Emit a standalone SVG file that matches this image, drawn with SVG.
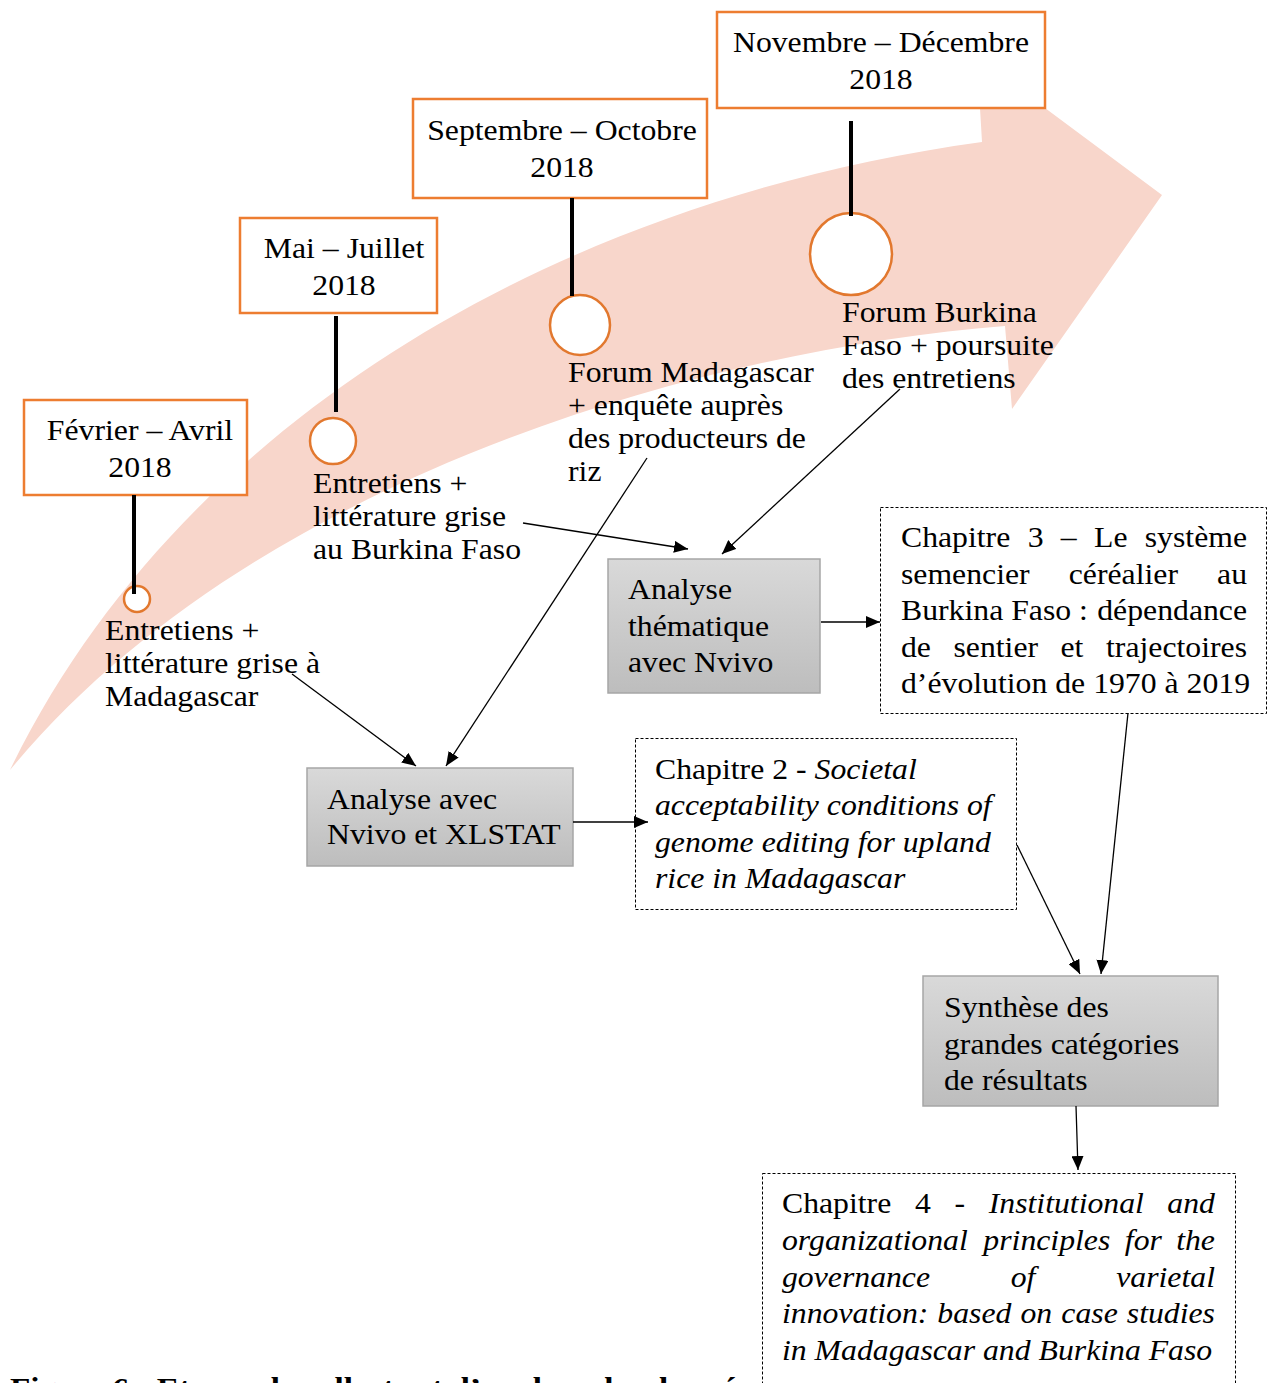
<svg xmlns="http://www.w3.org/2000/svg" width="1271" height="1383" viewBox="0 0 1271 1383">
<style>
.t{font-family:"Liberation Serif","Times New Roman",serif;font-size:29px;fill:#000}
.i{font-style:italic}
.b{font-weight:bold}
.ob{fill:#fff;stroke:#ED7D31;stroke-width:2.5}
.circ{fill:#fff;stroke:#E2782E;stroke-width:2.5}
.stem{stroke:#000;stroke-width:4}
.gb{fill:url(#gg);stroke:#A6A6A6;stroke-width:1.5}
.db{fill:#fff;stroke:#000;stroke-width:1;stroke-dasharray:3 2}
.c{stroke:#000;stroke-width:1.3;fill:none;marker-end:url(#ah)}
</style>
<defs>
<linearGradient id="gg" x1="0" y1="0" x2="0" y2="1">
<stop offset="0" stop-color="#D9D9D9"/>
<stop offset="1" stop-color="#BDBDBD"/>
</linearGradient>
<marker id="ah" markerUnits="userSpaceOnUse" markerWidth="14" markerHeight="12" refX="14" refY="6" orient="auto">
<path d="M0,0 L14,6 L0,12 z" fill="#000"/>
</marker>
</defs>
<rect width="1271" height="1383" fill="#fff"/>
<g id="big-arrow">
<path d="M10,770 C180,420 560,200 982,142 L980,108 L1045,108 L1162,195 L1012,409 L1005,326 C700,350 250,480 10,770 Z" fill="#F8D6CB"/>
</g>
<g id="step1">
<rect class="ob" x="24" y="400" width="223" height="95"/>
<text class="t" text-anchor="middle" transform="translate(140,440) scale(1.095 1)"><tspan x="0" y="0">Février – Avril</tspan><tspan x="0" y="37">2018</tspan></text>
<circle class="circ" cx="137" cy="599" r="13"/>
<line class="stem" x1="134" y1="495" x2="134" y2="594"/>
<text class="t" transform="translate(105,640) scale(1.095 1)"><tspan x="0" y="0">Entretiens +</tspan><tspan x="0" y="33">littérature grise à</tspan><tspan x="0" y="66">Madagascar</tspan></text>
</g>
<g id="step2">
<rect class="ob" x="240" y="218" width="197" height="95"/>
<text class="t" text-anchor="middle" transform="translate(344,258) scale(1.095 1)"><tspan x="0" y="0">Mai – Juillet</tspan><tspan x="0" y="37">2018</tspan></text>
<circle class="circ" cx="333" cy="441" r="23"/>
<line class="stem" x1="336" y1="316" x2="336" y2="412"/>
<text class="t" transform="translate(313,493) scale(1.095 1)"><tspan x="0" y="0">Entretiens +</tspan><tspan x="0" y="33">littérature grise</tspan><tspan x="0" y="66">au Burkina Faso</tspan></text>
</g>
<g id="step3">
<rect class="ob" x="413" y="99" width="294" height="99"/>
<text class="t" text-anchor="middle" transform="translate(562,140) scale(1.095 1)"><tspan x="0" y="0">Septembre – Octobre</tspan><tspan x="0" y="37">2018</tspan></text>
<circle class="circ" cx="580" cy="325" r="30"/>
<line class="stem" x1="572" y1="198" x2="572" y2="296"/>
<text class="t" transform="translate(568,382) scale(1.095 1)"><tspan x="0" y="0">Forum Madagascar</tspan><tspan x="0" y="33">+ enquête auprès</tspan><tspan x="0" y="66">des producteurs de</tspan><tspan x="0" y="99">riz</tspan></text>
</g>
<g id="step4">
<rect class="ob" x="717" y="12" width="328" height="96"/>
<text class="t" text-anchor="middle" transform="translate(881,52) scale(1.095 1)"><tspan x="0" y="0">Novembre – Décembre</tspan><tspan x="0" y="37">2018</tspan></text>
<circle class="circ" cx="851" cy="254" r="41"/>
<line class="stem" x1="851" y1="121" x2="851" y2="216"/>
<text class="t" transform="translate(842,322) scale(1.095 1)"><tspan x="0" y="0">Forum Burkina</tspan><tspan x="0" y="33">Faso + poursuite</tspan><tspan x="0" y="66">des entretiens</tspan></text>
</g>
<g id="analyse-thematique">
<rect class="gb" x="608" y="559" width="212" height="134"/>
<text class="t" transform="translate(628,599) scale(1.095 1)"><tspan x="0" y="0">Analyse</tspan><tspan x="0" y="37">thématique</tspan><tspan x="0" y="73">avec Nvivo</tspan></text>
</g>
<g id="analyse-xlstat">
<rect class="gb" x="307" y="768" width="266" height="98"/>
<text class="t" transform="translate(327,809) scale(1.095 1)"><tspan x="0" y="0">Analyse avec</tspan><tspan x="0" y="35">Nvivo et XLSTAT</tspan></text>
</g>
<g id="synthese">
<rect class="gb" x="923" y="976" width="295" height="130"/>
<text class="t" transform="translate(944,1017) scale(1.095 1)"><tspan x="0" y="0">Synthèse des</tspan><tspan x="0" y="37">grandes catégories</tspan><tspan x="0" y="73">de résultats</tspan></text>
</g>
<g id="chapitre3">
<rect class="db" x="880.5" y="507.5" width="386" height="206"/>
<g class="t" transform="translate(901,547) scale(1.095 1)">
<text x="0" y="0">Chapitre</text><text x="115.7" y="0">3</text><text x="145.9" y="0">–</text><text x="176.3" y="0">Le</text><text x="316" y="0" text-anchor="end">système</text>
<text x="0" y="37">semencier</text><text x="153.2" y="37">céréalier</text><text x="316" y="37" text-anchor="end">au</text>
<text x="0" y="73">Burkina Faso :</text><text x="316" y="73" text-anchor="end">dépendance</text>
<text x="0" y="110">de</text><text x="47.9" y="110">sentier</text><text x="145.7" y="110">et</text><text x="316" y="110" text-anchor="end">trajectoires</text>
<text x="0" y="146">d’évolution de 1970 à 2019</text>
</g>
</g>
<g id="chapitre2">
<rect class="db" x="635.5" y="738.5" width="381" height="171"/>
<text class="t" transform="translate(655,779) scale(1.095 1)"><tspan x="0" y="0">Chapitre 2 - <tspan class="i">Societal</tspan></tspan><tspan class="i" x="0" y="36">acceptability conditions of</tspan><tspan class="i" x="0" y="73">genome editing for upland</tspan><tspan class="i" x="0" y="109">rice in Madagascar</tspan></text>
</g>
<g id="chapitre4">
<rect class="db" x="762.5" y="1173.5" width="473" height="230"/>
<g class="t" transform="translate(782,1213) scale(1.095 1)">
<text x="0" y="0">Chapitre</text><text x="121.5" y="0">4</text><text x="157.5" y="0">-</text><text class="i" x="188.8" y="0">Institutional</text><text class="i" x="395.4" y="0" text-anchor="end">and</text>
<text class="i" x="0" y="37">organizational</text><text class="i" x="183.9" y="37">principles</text><text class="i" x="313.1" y="37">for</text><text class="i" x="395.4" y="37" text-anchor="end">the</text>
<text class="i" x="0" y="74">governance</text><text class="i" x="208.9" y="74">of</text><text class="i" x="395.4" y="74" text-anchor="end">varietal</text>
<text class="i" x="0" y="110">innovation:</text><text class="i" x="141.9" y="110">based</text><text class="i" x="217.8" y="110">on</text><text class="i" x="255.1" y="110">case</text><text class="i" x="395.4" y="110" text-anchor="end">studies</text>
<text class="i" x="0" y="147">in Madagascar and Burkina Faso</text>
</g>
</g>
<g id="connectors">
<line class="c" x1="292" y1="674" x2="416" y2="766"/>
<line class="c" x1="647" y1="458" x2="446" y2="766"/>
<line class="c" x1="523" y1="523" x2="688" y2="549"/>
<line class="c" x1="900" y1="389" x2="722" y2="554"/>
<line class="c" x1="821" y1="622" x2="880" y2="622"/>
<line class="c" x1="573" y1="822" x2="648" y2="822"/>
<line class="c" x1="1017" y1="845" x2="1080" y2="974"/>
<line class="c" x1="1128" y1="713" x2="1101" y2="974"/>
<line class="c" x1="1076" y1="1106" x2="1078" y2="1170"/>
</g>
<g id="caption">
<text class="t b" transform="translate(10,1398) scale(1.15 1)">Figure 6 : Etapes de collecte et d’analyse des données</text>
</g>
</svg>
